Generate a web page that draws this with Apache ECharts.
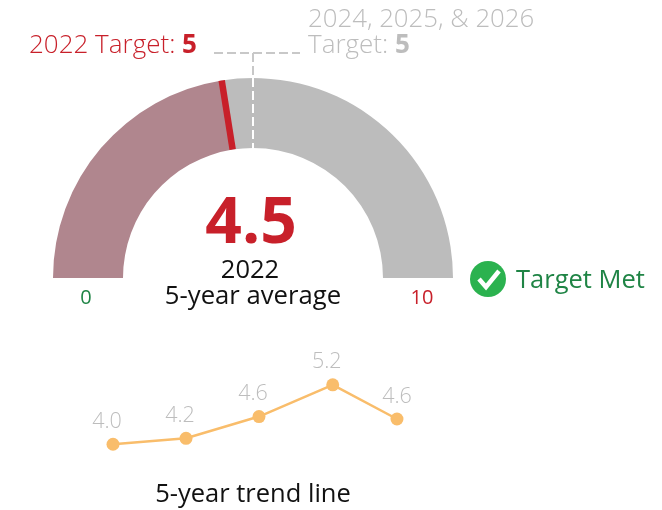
<!DOCTYPE html>
<html>
<head>
<meta charset="utf-8">
<style>
  html, body { margin: 0; padding: 0; background: #fff; }
  #chart { width: 662px; height: 510px; }
</style>
<script src="https://cdn.jsdelivr.net/npm/echarts@6/dist/echarts.min.js"></script>
</head>
<body>
<div id="chart"></div>
<script>
// gauge
const gaugeValue = 4.5
const gaugeMin = 0
const gaugeMax = 10
const gaugeTarget = 5
const gaugeYear = '2022'
// trend line
const trendX = [0, 1, 2, 3.01, 3.89]
const trendValues = [4.0, 4.12, 4.56, 5.2, 4.51]
const trendLabels = ['4.0', '4.2', '4.6', '5.2', '4.6']

const FONT = '"Open Sans", sans-serif'
const RED = '#c8202a'
const GREEN = '#1f8445'
const GREY_TEXT = '#bdbdbd'
const cx = 253, cy = 278, R = 200, r = 130

// x position of a gauge value on the top of the arc
const targetX = cx - R * Math.cos(Math.PI * (gaugeTarget - gaugeMin) / (gaugeMax - gaugeMin))
const dashStyle = (color) => ({ stroke: color, lineWidth: 2, lineDash: [9, 4] })

const text = (x, y, str, size, color, align = 'left', weight = 'normal') => ({
  type: 'text',
  x, y,
  style: { text: str, font: `${weight} ${size}px ${FONT}`, fill: color, align, verticalAlign: 'middle' }
})

const chart = echarts.init(document.getElementById('chart'), null, { renderer: 'canvas' })

chart.setOption({
  animation: false,
  backgroundColor: '#fff',
  grid: { left: 113, top: 370, width: 292, height: 99 },
  xAxis: { type: 'value', min: 0, max: 4, show: false },
  yAxis: { type: 'value', min: 3.5, max: 5.5, show: false },
  series: [
    {
      type: 'gauge',
      center: [cx, cy],
      radius: R,
      startAngle: 180,
      endAngle: 0,
      min: gaugeMin,
      max: gaugeMax,
      axisLine: {
        roundCap: false,
        lineStyle: {
          width: R - r,
          color: [[gaugeValue / gaugeMax, '#b0868e'], [1, '#bcbcbc']]
        }
      },
      axisTick: { show: false },
      splitLine: { show: false },
      axisLabel: { show: false },
      anchor: { show: false },
      title: { show: false },
      progress: { show: false },
      // red marker sits in the ring band, so shift it out by the inner radius
      pointer: { icon: 'rect', length: R - r, width: 6.5, offsetCenter: [0, -r], itemStyle: { color: RED } },
      detail: {
        valueAnimation: false,
        offsetCenter: [-2, -53],
        formatter: (v) => v.toFixed(1),
        color: RED,
        fontFamily: FONT,
        fontWeight: 'bold',
        fontSize: 64
      },
      data: [{ value: gaugeValue }]
    },
    {
      type: 'line',
      data: trendX.map((x, i) => ({
        value: [x, trendValues[i]],
        // all but the last label sit a little left of their point
        label: { offset: i < trendX.length - 1 ? [-6, 0] : [0, 0] }
      })),
      symbol: 'circle',
      symbolSize: 13,
      lineStyle: { color: '#f9bd6b', width: 2.5 },
      itemStyle: { color: '#f9bd6b' },
      label: {
        show: true,
        position: 'top',
        distance: 5,
        formatter: (p) => trendLabels[p.dataIndex],
        color: GREY_TEXT,
        fontFamily: FONT,
        fontWeight: 300,
        fontSize: 21.5
      }
    }
  ],
  graphic: [
    // target leader lines
    { type: 'line', shape: { x1: 214, y1: 53, x2: 300, y2: 53 }, style: dashStyle('#c8c8c8') },
    { type: 'line', shape: { x1: targetX, y1: 53, x2: targetX, y2: cy - R }, style: dashStyle('#c8c8c8') },
    { type: 'line', z: 10, shape: { x1: targetX, y1: cy - R, x2: targetX, y2: cy - r }, style: dashStyle('#fff') },
    // target labels
    {
      type: 'text', x: 29, y: 46,
      style: {
        rich: { b: { font: `bold 26px ${FONT}`, fill: RED } },
        text: `${gaugeYear} Target: {b|${gaugeTarget}}`,
        font: `300 26px ${FONT}`, fill: RED, verticalAlign: 'middle'
      }
    },
    text(308, 20, '2024, 2025, & 2026', 25.8, GREY_TEXT, 'left', 300),
    {
      type: 'text', x: 308, y: 46,
      style: {
        rich: { b: { font: `bold 26px ${FONT}`, fill: GREY_TEXT } },
        text: `Target: {b|${gaugeTarget}}`,
        font: `300 26px ${FONT}`, fill: GREY_TEXT, verticalAlign: 'middle'
      }
    },
    // centre labels
    text(250, 271, gaugeYear, 25.5, '#111', 'center'),
    text(253, 297, '5-year average', 25.7, '#111', 'center'),
    text(86, 298, String(gaugeMin), 20, GREEN, 'center'),
    text(422, 298, String(gaugeMax), 20, RED, 'center'),
    // status badge
    { type: 'circle', shape: { cx: 488, cy: 279, r: 18 }, style: { fill: '#2bb24f' } },
    {
      type: 'polyline',
      shape: { points: [[479, 279], [486, 287], [499, 271]] },
      style: { stroke: '#fff', lineWidth: 4.5, fill: null }
    },
    text(516, 281, 'Target Met', 25.5, GREEN),
    text(253, 495, '5-year trend line', 25.5, '#111', 'center')
  ]
})
</script>
</body>
</html>
